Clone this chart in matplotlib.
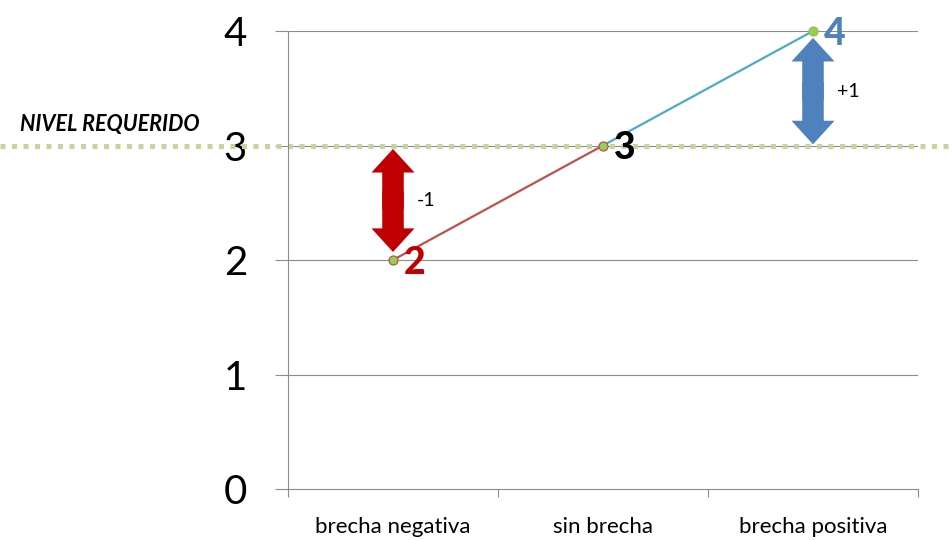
import matplotlib
matplotlib.use("Agg")
import matplotlib.pyplot as plt
import matplotlib.transforms as mtransforms

plt.rcParams['font.family'] = ['Lato', 'DejaVu Sans']

categories = ["brecha negativa", "sin brecha", "brecha positiva"]
values = [2, 3, 4]
required_level = 3
gaps = ["-1", "", "+1"]
yticks = [0, 1, 2, 3, 4]

value_colors = ["#C00000", "#000000", "#4F81BD"]
seg_colors = ["#C0504D", "#4BACC6"]
grid_gray = "#8C8C8C"

fig = plt.figure(figsize=(9.52, 5.40), dpi=100)
ax = fig.add_axes([288 / 952, 51 / 540, 630 / 952, 458 / 540])

x = list(range(len(categories)))
ax.set_xlim(-0.5, len(categories) - 0.5)
ax.set_ylim(0, 4)

# horizontal gridlines
for yv in yticks[1:]:
    ax.axhline(yv, color=grid_gray, lw=0.8, zorder=1)

# required level: dotted band across the whole figure width
trans = mtransforms.blended_transform_factory(fig.transFigure, ax.transData)
ax.plot([0, 1], [required_level, required_level], transform=trans,
        color="#C3D69B", lw=3.6, linestyle=(0, (1, 1.3)),
        dash_capstyle="butt", clip_on=False, zorder=2)
fig.text(20 / 952, 1 - 124 / 540, "NIVEL REQUERIDO",
         fontsize=15.5, fontweight="bold", fontstyle="italic",
         ha="left", va="center")

# connecting segments
ax.plot(x[0:2], values[0:2], color=seg_colors[0], lw=1.6, zorder=3)
ax.plot(x[1:3], values[1:3], color=seg_colors[1], lw=1.6, zorder=3)

# points
marker_edges = ["#C0504D", "#C0504D", "#9BBB59"]
for xi, v, ec in zip(x, values, marker_edges):
    ax.plot(xi, v, marker="o", ms=6.5, mfc="#92D050", mec=ec, mew=0.9,
            zorder=5, clip_on=False)

# value labels
for xi, v, c in zip(x, values, value_colors):
    ax.annotate(str(v), (xi, v), xytext=(8, -2), textcoords="offset points",
                ha="left", va="center", fontsize=27, fontweight="black",
                color=c, zorder=6, annotation_clip=False)

# double-headed gap arrows
arrow_specs = [
    (0, values[0], required_level, "#C00000"),
    (2, required_level, values[2], "#4F81BD"),
]
for xi, lo, hi, c in arrow_specs:
    lo_t = lo + 0.07 if xi == 0 else lo + 0.01
    hi_t = hi - 0.03 if xi == 0 else hi - 0.06
    mid = (lo_t + hi_t) / 2
    style = "simple,head_length=17,head_width=31,tail_width=15.5"
    for end, start in ((lo_t, mid + 0.08), (hi_t, mid - 0.08)):
        ax.annotate("", xy=(xi, end), xytext=(xi, start),
                    arrowprops=dict(arrowstyle=style, color=c, lw=0,
                                    shrinkA=0, shrinkB=0, mutation_scale=1),
                    zorder=4)
    label = gaps[xi]
    ax.annotate(label, (xi, mid), xytext=(17, 0), textcoords="offset points",
                ha="left", va="center", fontsize=14, color="#000000")

# axes styling
for side in ("top", "right"):
    ax.spines[side].set_visible(False)
for side in ("left", "bottom"):
    ax.spines[side].set_color(grid_gray)
    ax.spines[side].set_linewidth(0.8)

ax.set_yticks(yticks)
ax.set_yticklabels([str(t) for t in yticks])
ax.tick_params(axis="y", direction="out", length=9.5, width=0.8,
               color=grid_gray, labelsize=29, pad=20)

ax.set_xticks(x)
ax.set_xticklabels(categories)
ax.set_xticks([i - 0.5 for i in range(len(categories) + 1)], minor=True)
ax.tick_params(axis="x", which="major", length=0, labelsize=16, pad=20)
ax.tick_params(axis="x", which="minor", direction="out", length=6,
               width=0.8, color=grid_gray)

fig.savefig("out.png", dpi=100)
